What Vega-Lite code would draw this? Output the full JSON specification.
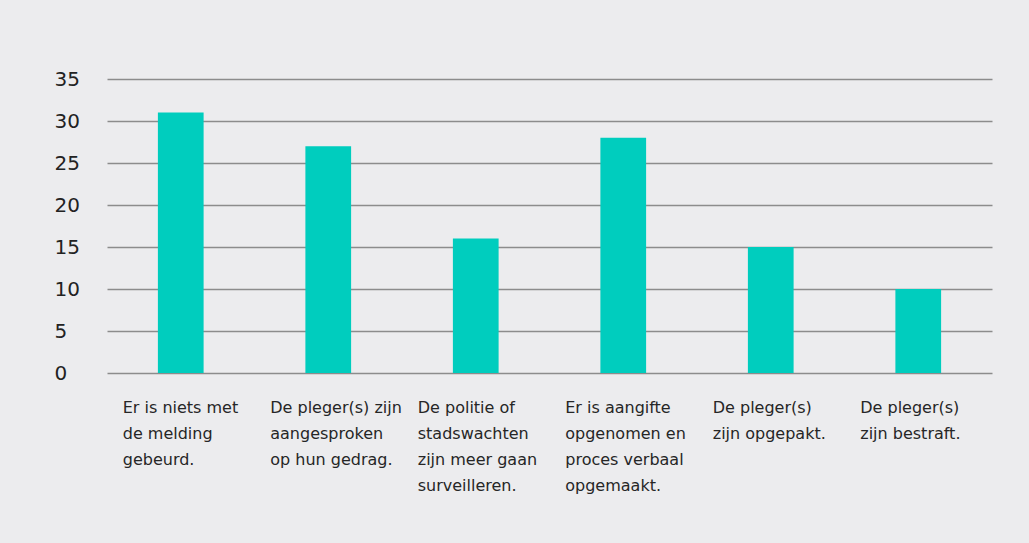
{
  "$schema": "https://vega.github.io/schema/vega-lite/v6.json",
  "autosize": "none",
  "width": 885,
  "height": 294,
  "padding": {"left": 107, "top": 79, "right": 37, "bottom": 170},
  "background": "#ececee",
  "config": {
    "view": {"stroke": null},
    "font": "DejaVu Sans"
  },
  "data": {
    "values": [
      {"label": "Er is niets met\nde melding\ngebeurd.", "value": 31},
      {"label": "De pleger(s) zijn\naangesproken\nop hun gedrag.", "value": 27},
      {"label": "De politie of\nstadswachten\nzijn meer gaan\nsurveilleren.", "value": 16},
      {"label": "Er is aangifte\nopgenomen en\nproces verbaal\nopgemaakt.", "value": 28},
      {"label": "De pleger(s)\nzijn opgepakt.", "value": 15},
      {"label": "De pleger(s)\nzijn bestraft.", "value": 10}
    ]
  },
  "mark": {"type": "bar", "color": "#00cdbe"},
  "encoding": {
    "x": {
      "field": "label",
      "type": "nominal",
      "sort": null,
      "scale": {"paddingInner": 0.69, "paddingOuter": 0.345},
      "axis": {
        "title": null,
        "domain": false,
        "ticks": false,
        "labelAngle": 0,
        "labelAlign": "left",
        "labelBaseline": "top",
        "labelOffset": -58,
        "labelPadding": 26,
        "labelFontSize": 16,
        "labelLineHeight": 26,
        "labelColor": "#262626",
        "labelLimit": 0,
        "labelExpr": "split(datum.value, '\\n')"
      }
    },
    "y": {
      "field": "value",
      "type": "quantitative",
      "scale": {"domain": [0, 35]},
      "axis": {
        "title": null,
        "domain": false,
        "ticks": false,
        "values": [0, 5, 10, 15, 20, 25, 30, 35],
        "grid": true,
        "gridColor": "#8c8c8c",
        "gridWidth": 1.3,
        "labelAlign": "left",
        "labelPadding": 53,
        "labelFontSize": 20,
        "labelColor": "#222222"
      }
    }
  }
}
